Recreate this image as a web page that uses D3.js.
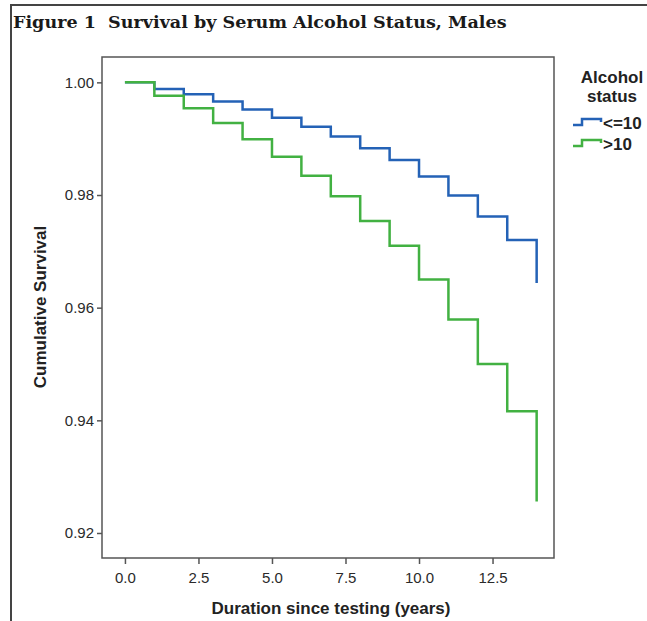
<!DOCTYPE html>
<html>
<head>
<meta charset="utf-8">
<script src="https://cdn.jsdelivr.net/npm/d3@7"></script>
<style>
  body { margin: 0; background: #fff; }
  text { font-family: Arial, "Liberation Sans", sans-serif; fill: #222; }
  .title { font-family: Georgia, "DejaVu Serif", serif; font-weight: bold; fill: #1a1a1a; white-space: pre; }
  .axis path, .axis line { stroke: #555; stroke-width: 1.5; }
  .axis text { font-size: 15px; fill: #2a2a2a; }
  .lbl { font-weight: bold; font-size: 17px; }
  .leg { font-weight: bold; font-size: 17px; }
</style>
</head>
<body>
<div id="container"></div>
<script>
let width = 647,
  height = 621,
  margin = { top: 57, right: 93, bottom: 63, left: 102 },
  bodyWidth = width - margin.left - margin.right,
  bodyHeight = height - margin.top - margin.bottom

// years since testing, survival for each alcohol group
let years = [0, 1, 2, 3, 4, 5, 6, 7, 8, 9, 10, 11, 12, 13, 14]
let lowAlcohol = [1.0, 0.9988, 0.9979, 0.9966, 0.9952, 0.9937, 0.9921, 0.9904, 0.9883, 0.9862, 0.9833, 0.9799, 0.9762, 0.9720, 0.9644]
let highAlcohol = [1.0, 0.9976, 0.9954, 0.9928, 0.9899, 0.9868, 0.9834, 0.9798, 0.9754, 0.9710, 0.9650, 0.9579, 0.9500, 0.9416, 0.9256]
let groups = ['<=10', '>10']
let colors = ['#2462b6', '#42b142']
let xTicks = [0, 2.5, 5, 7.5, 10, 12.5]
let yTicks = [0.92, 0.94, 0.96, 0.98, 1.00]

let xScale = d3.scaleLinear().domain([-0.78, 14.59]).range([0, bodyWidth]),
  yScale = d3.scaleLinear().domain([0.91556, 1.0045]).range([bodyHeight, 0])

let line = d3.line()
  .x(d => xScale(d[0]))
  .y(d => yScale(d[1]))
  .curve(d3.curveStepAfter)

let svg = d3.select('#container')
  .append('svg')
  .attr('width', width)
  .attr('height', height)

// outer frame (top + left only)
svg.append('path')
  .attr('d', 'M11,621V5H647')
  .attr('fill', 'none')
  .attr('stroke', '#444')
  .attr('stroke-width', 2)

let title = svg.append('text')
  .attr('class', 'title')
  .attr('x', 13)
  .attr('y', 28)
  .style('font-size', '18px')
  .text('Figure 1  Survival by Serum Alcohol Status, Males')
let tw = title.node().getComputedTextLength()
title.style('font-size', (18 * 494 / tw) + 'px')

let g = svg.append('g')
  .attr('transform', 'translate(' + margin.left + ', ' + margin.top + ')')

g.append('rect')
  .attr('width', bodyWidth)
  .attr('height', bodyHeight)
  .attr('fill', 'none')
  .attr('stroke', '#555')
  .attr('stroke-width', 1.5)

let series = [lowAlcohol, highAlcohol]
series.forEach((vals, i) => {
  g.append('path')
    .attr('d', line(years.map((t, j) => [t, vals[j]])))
    .attr('fill', 'none')
    .attr('stroke', colors[i])
    .attr('stroke-width', 2.5)
})

let xAxis = d3.axisBottom(xScale).tickValues(xTicks).tickFormat(d3.format('.1f')).tickSize(6).tickPadding(8),
  yAxis = d3.axisLeft(yScale).tickValues(yTicks).tickFormat(d3.format('.2f')).tickSize(5).tickPadding(3)

g.append('g')
  .attr('class', 'axis')
  .attr('transform', 'translate(0, ' + bodyHeight + ')')
  .call(xAxis)
  .call(a => a.select('.domain').remove())

g.append('g')
  .attr('class', 'axis')
  .call(yAxis)
  .call(a => a.select('.domain').remove())

svg.append('text')
  .attr('class', 'lbl')
  .attr('x', 331)
  .attr('y', 614)
  .attr('text-anchor', 'middle')
  .text('Duration since testing (years)')

svg.append('text')
  .attr('class', 'lbl')
  .attr('transform', 'translate(46, 307) rotate(-90)')
  .attr('text-anchor', 'middle')
  .text('Cumulative Survival')

// legend
let legend = svg.append('g').attr('transform', 'translate(573, 0)')
legend.append('text')
  .attr('class', 'leg')
  .attr('x', 39)
  .attr('y', 83)
  .attr('text-anchor', 'middle')
  .text('Alcohol')
legend.append('text')
  .attr('class', 'leg')
  .attr('x', 39)
  .attr('y', 102)
  .attr('text-anchor', 'middle')
  .text('status')

groups.forEach((name, i) => {
  let y0 = 125 + i * 21
  legend.append('path')
    .attr('d', 'M0,' + y0 + 'H9V' + (y0 - 6) + 'H28V' + (y0 - 3))
    .attr('fill', 'none')
    .attr('stroke', colors[i])
    .attr('stroke-width', 2.5)
  legend.append('text')
    .attr('class', 'leg')
    .attr('x', 30)
    .attr('y', y0 + 4)
    .text(name)
})
</script>
</body>
</html>
